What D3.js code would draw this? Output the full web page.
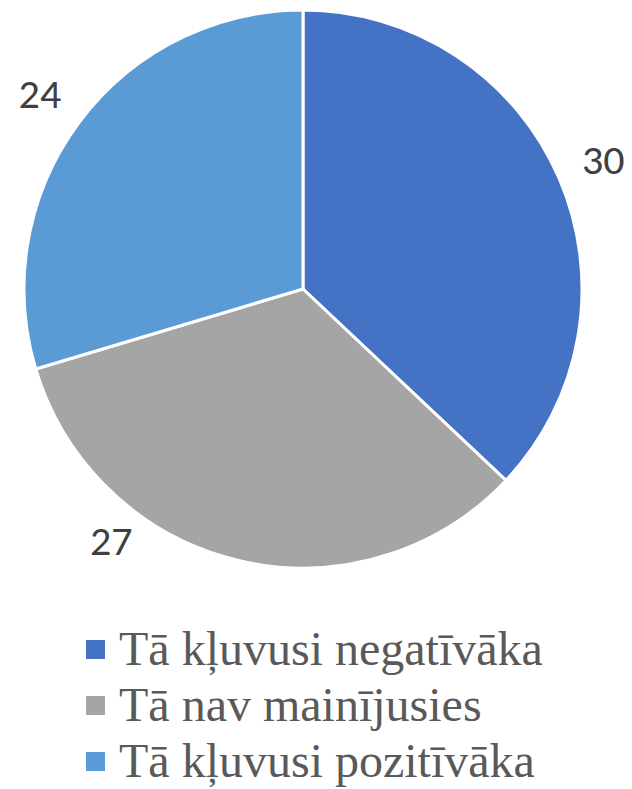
<!DOCTYPE html>
<html><head><meta charset="utf-8">
<script src="https://cdn.jsdelivr.net/npm/d3@7"></script>
<style>html,body{margin:0;padding:0;background:#fff;}</style>
</head><body>
<svg id="c" width="632" height="789"></svg>
<script>
const categories = ["Tā kļuvusi negatīvāka", "Tā nav mainījusies", "Tā kļuvusi pozitīvāka"];
const values = [30, 27, 24];
const colors = ["#4472C4", "#A5A5A5", "#5B9BD5"];

const svg = d3.select("#c");
const cx = 303, cy = 289, r = 279;
const data = categories.map((c, i) => ({cat: c, val: values[i], col: colors[i]}));
const pie = d3.pie().value(d => d.val).sort(null);
const arcs = pie(data);
const arc = d3.arc().innerRadius(0).outerRadius(r);
const g = svg.append("g").attr("transform", `translate(${cx},${cy})`);
g.selectAll("path").data(arcs).join("path")
  .attr("d", arc).attr("fill", d => d.data.col)
  .attr("stroke", "#fff").attr("stroke-width", 3).attr("stroke-linejoin", "round");

// label placement (layout): fraction along slice and radial offset
const labelFrac = [0.5, 0.70, 0.5];
const labelOff = [48, 37, 49];
g.selectAll("text.lbl").data(arcs).join("text").attr("class", "lbl")
  .attr("transform", (d, i) => {
    const a = d.startAngle + (d.endAngle - d.startAngle) * labelFrac[i];
    const rr = r + labelOff[i];
    return `translate(${rr * Math.sin(a)},${-rr * Math.cos(a)})`;
  })
  .attr("text-anchor", "middle").attr("dominant-baseline", "central")
  .style("font-family", '"Carlito", "Calibri", sans-serif').attr("font-size", 42)
  .attr("fill", "#404040").text(d => d.data.val);

const lg = svg.append("g");
const rows = lg.selectAll("g").data(data).join("g")
  .attr("transform", (d, i) => `translate(86, ${650 + i * 56})`);
rows.append("rect").attr("x", 0).attr("y", -10).attr("width", 19).attr("height", 19).attr("fill", d => d.col);
rows.append("text").attr("x", 33).attr("y", 15)
  .style("font-family", '"Liberation Serif"').attr("font-size", 48)
  .attr("fill", "#595959").text(d => d.cat);
</script>
</body></html>
